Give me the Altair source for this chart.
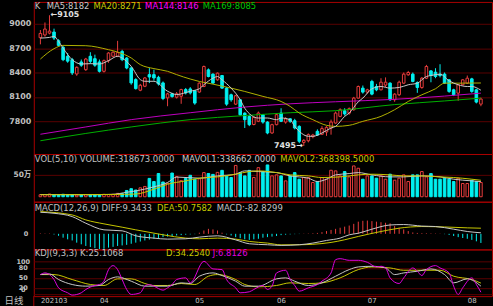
import altair as alt
import pandas as pd

# ---------------- data ----------------
opens = [8829, 8862, 8885, 8898, 8791, 8710, 8600, 8558, 8382, 8530,
         8435, 8600, 8570, 8530, 8415, 8546, 8600, 8600, 8660, 8578,
         8456, 8313, 8182, 8231, 8374, 8374, 8341, 8272, 8088, 8137,
         8096, 8108, 8190, 8198, 8175, 8160, 8228, 8433, 8380, 8310,
         8363, 8208, 8126, 8011, 8064, 7900, 7860, 7760, 7800, 7880,
         7790, 7656, 7758, 7901, 7790, 7830, 7807, 7737, 7540, 7560,
         7610, 7676, 7640, 7668, 7717, 7778, 7860, 7930, 7900, 7942,
         8085, 8208, 8159, 8290, 8228, 8187, 8245, 8269, 8065, 8126,
         8269, 8372, 8380, 8277, 8216, 8330, 8420, 8404, 8380, 8380,
         8310, 8187, 8146, 8249, 8269, 8322, 8187, 8011]
highs = [8923, 9016, 9105, 8940, 8810, 8730, 8640, 8580, 8475, 8560,
         8580, 8650, 8620, 8560, 8560, 8650, 8660, 8790, 8680, 8590,
         8470, 8330, 8260, 8345, 8455, 8435, 8360, 8290, 8150, 8150,
         8160, 8200, 8210, 8220, 8180, 8280, 8486, 8450, 8390, 8400,
         8370, 8220, 8140, 8125, 8075, 7910, 7880, 7860, 7920, 7890,
         7800, 7770, 7900, 7960, 7850, 7840, 7830, 7750, 7580, 7650,
         7645, 7700, 7740, 7740, 7820, 7920, 7960, 7960, 7970, 8100,
         8240, 8240, 8200, 8310, 8260, 8330, 8340, 8280, 8145, 8300,
         8400, 8420, 8400, 8290, 8345, 8494, 8430, 8453, 8502, 8400,
         8320, 8200, 8260, 8320, 8363, 8335, 8200, 8090]
lows = [8747, 8841, 8870, 8800, 8720, 8540, 8520, 8370, 8360, 8470,
        8420, 8510, 8470, 8400, 8400, 8520, 8590, 8590, 8540, 8440,
        8250, 8190, 8170, 8220, 8270, 8300, 8240, 8060, 7985, 8090,
        8080, 8015, 8130, 8130, 8003, 8150, 8220, 8340, 8260, 8300,
        8200, 7990, 8040, 8000, 7870, 7717, 7740, 7750, 7790, 7770,
        7640, 7645, 7750, 7790, 7770, 7780, 7700, 7530, 7495, 7540,
        7590, 7620, 7630, 7620, 7635, 7770, 7850, 7870, 7880, 7930,
        8080, 8140, 8140, 8120, 8170, 8180, 8220, 8050, 8040, 8110,
        8260, 8360, 8280, 8150, 8200, 8320, 8280, 8330, 8340, 8260,
        8150, 8110, 8052, 8240, 8260, 8150, 8020, 7985]
closes = [8881, 8935, 8910, 8824, 8734, 8558, 8540, 8395, 8464, 8490,
          8566, 8538, 8490, 8415, 8546, 8640, 8650, 8645, 8558, 8456,
          8272, 8202, 8243, 8333, 8345, 8333, 8260, 8080, 8137, 8104,
          8137, 8190, 8149, 8149, 8024, 8269, 8474, 8351, 8270, 8392,
          8208, 8011, 8064, 8114, 7880, 7819, 7758, 7848, 7901, 7790,
          7656, 7758, 7881, 7799, 7830, 7800, 7717, 7553, 7565, 7635,
          7630, 7630, 7710, 7725, 7790, 7901, 7942, 7890, 7955, 8085,
          8228, 8159, 8187, 8134, 8187, 8281, 8281, 8065, 8134, 8281,
          8380, 8400, 8290, 8216, 8330, 8474, 8363, 8351, 8363, 8269,
          8167, 8126, 8249, 8310, 8330, 8167, 8036, 8073]
volumes = [45000, 50000, 60000, 45000, 40000, 55000, 45000, 50000, 40000, 45000,
           50000, 45000, 40000, 45000, 55000, 50000, 55000, 75000, 70000, 140000,
           180000, 150000, 200000, 230000, 410000, 340000, 520000, 330000, 300000, 530000,
           450000, 360000, 410000, 480000, 390000, 400000, 540000, 520000, 500000, 545000,
           590000, 460000, 430000, 700000, 540000, 466000, 590000, 430000, 650000, 563000,
           711000, 466000, 489000, 466000, 355000, 466000, 540000, 392000, 430000, 430000,
           318000, 340000, 430000, 392000, 592000, 578000, 466000, 563000, 444000, 689000,
           637000, 392000, 466000, 466000, 415000, 466000, 392000, 504000, 370000, 415000,
           489000, 340000, 489000, 489000, 563000, 444000, 518000, 392000, 392000, 415000,
           392000, 340000, 415000, 296000, 296000, 370000, 340000, 318673]
macd_hist = [4, 3, 3, -6, -18, -35, -50, -60, -80, -95,
             -110, -120, -130, -138, -135, -125, -118, -110, -105, -100,
             -90, -80, -70, -60, -52, -45, -40, -30, -25, -20,
             -15, -12, -8, -5, -3, 10, 30, 45, 40, 30,
             10, -5, -15, -30, -40, -50, -55, -50, -45, -35,
             -30, -25, -20, -12, -8, -5, -3, -2, 2, 3,
             5, 8, 15, 25, 35, 45, 55, 65, 75, 90,
             110, 118, 120, 115, 110, 105, 100, 95, 70, 55,
             40, 25, 12, 8, 6, 5, 4, 3, 2, -3,
             -10, -20, -30, -38, -45, -55, -68, -82.8299]

ma5_i = [0, 2, 3, 4, 5, 7, 9, 11, 13, 15, 17, 18, 20, 22, 23, 25, 28, 30, 33, 35,
         36, 38, 39, 40, 42, 44, 45, 48, 50, 52, 53, 55, 56, 57, 59, 60, 62, 64, 65, 67,
         68, 70, 71, 73, 75, 77, 79, 81, 83, 85, 86, 88, 90, 92, 94, 95, 97]
ma5_v = [8824, 8832, 8845, 8783, 8700, 8558, 8505, 8509, 8505, 8546, 8600, 8578, 8476, 8313, 8292, 8292, 8170, 8129, 8170, 8200,
         8250, 8330, 8351, 8310, 8208, 8065, 7960, 7840, 7840, 7819, 7840, 7819, 7737, 7676, 7615, 7615, 7655, 7717, 7737, 7860,
         7901, 8040, 8085, 8200, 8228, 8208, 8216, 8249, 8269, 8351, 8363, 8380, 8298, 8249, 8228, 8228, 8182]
ma20_i = [0, 3, 5, 10, 15, 17, 20, 22, 25, 28, 30, 33, 35, 38, 42, 45, 49, 53, 55, 57,
          60, 63, 65, 68, 71, 75, 78, 81, 84, 87, 89, 92, 97]
ma20_v = [8566, 8693, 8734, 8730, 8681, 8652, 8579, 8497, 8448, 8415, 8374, 8320, 8290, 8257, 8208, 8167, 8106, 8044, 7983, 7901,
          7819, 7750, 7737, 7750, 7799, 7860, 7942, 8044, 8126, 8200, 8269, 8269, 8271]
ma144_i = [0, 10, 20, 33, 45, 55, 65, 78, 89, 97]
ma144_v = [7640, 7730, 7820, 7905, 7975, 8015, 8040, 8070, 8110, 8146]
ma169_i = [0, 10, 20, 33, 45, 55, 65, 78, 89, 97]
ma169_v = [7560, 7650, 7730, 7820, 7870, 7905, 7930, 8005, 8050, 8085]

mavol1_i = [0, 10, 16, 19, 21, 25, 28, 30, 35, 39, 43, 45, 48, 52, 55, 59, 61, 63, 65, 68,
            70, 73, 77, 80, 84, 88, 91, 95, 97]
mavol1_v = [50000, 45000, 55000, 100000, 130000, 222000, 318000, 440000, 415000, 466000, 504000, 578000, 563000, 540000, 466000, 415000, 340000, 392000, 489000, 518000,
            540000, 489000, 444000, 444000, 466000, 444000, 392000, 355000, 338662]
mavol2_i = [0, 16, 21, 25, 28, 32, 35, 39, 43, 46, 48, 52, 55, 59, 62, 66, 70, 73, 77, 80,
            84, 88, 91, 95, 97]
mavol2_v = [45000, 50000, 60000, 170000, 280000, 355000, 415000, 444000, 504000, 563000, 578000, 540000, 489000, 466000, 430000, 444000, 489000, 504000, 489000, 466000,
            466000, 444000, 430000, 392000, 368398.5]

diff_i = [0, 3, 7, 10, 14, 18, 21, 25, 28, 32, 35, 39, 43, 46, 50, 53, 57, 60, 63, 66,
          68, 70, 73, 77, 80, 84, 87, 91, 94, 97]
diff_v = [195, 186, 156, 96, 36, 27, -18, -39, -48, -45, -30, -18, -55, -90, -99, -105, -99, -84, -60, -39,
          -9, 5, 42, 80, 84, 70, 66, 42, 21, 9.3433]
dea_i = [0, 7, 10, 14, 18, 21, 25, 27, 32, 35, 39, 43, 46, 50, 53, 57, 60, 64, 67, 70,
         75, 79, 84, 89, 94, 97]
dea_v = [201, 171, 126, 90, 60, 36, 6, -9, -39, -45, -39, -48, -69, -84, -100, -99, -95, -78, -54, -24,
         21, 51, 66, 62, 54, 50.7582]

k_i = [0, 2, 4, 7, 10, 13, 15, 17, 20, 23, 25, 28, 31, 33, 35, 38, 40, 43, 45, 48,
       52, 54, 56, 59, 62, 65, 68, 70, 73, 76, 78, 80, 83, 86, 89, 91, 94, 97]
k_v = [60, 62, 45, 30, 25, 27, 45, 53, 40, 25, 25, 25, 35, 33, 55, 65, 57, 40, 25, 25,
       47, 50, 40, 27, 35, 55, 75, 83, 85, 80, 60, 65, 70, 77, 60, 35, 47, 25.1068]
d_i = [0, 3, 7, 11, 14, 17, 20, 23, 25, 28, 31, 34, 37, 39, 43, 45, 48, 52, 55, 59,
       62, 66, 70, 73, 77, 80, 84, 88, 91, 95, 97]
d_v = [60, 60, 45, 30, 27, 47, 47, 33, 27, 27, 33, 30, 55, 60, 45, 30, 23, 27, 35, 33,
       35, 50, 75, 83, 80, 73, 73, 73, 55, 45, 34.254]
j_i = [0, 1, 2, 3, 4, 6, 7, 9, 10, 12, 13, 14, 15, 16, 17, 18, 19, 20, 22, 23,
       24, 25, 27, 28, 29, 30, 32, 33, 36, 38, 40, 41, 43, 44, 46, 47, 49, 50, 51, 52,
       54, 55, 56, 57, 59, 61, 62, 64, 65, 66, 68, 70, 72, 74, 75, 76, 77, 79, 80, 82,
       83, 84, 85, 87, 88, 90, 91, 92, 93, 95, 96, 97]
j_v = [60, 65, 60, 45, 20, 5, -2, 5, 15, 27, 30, 40, 75, 87, 75, 45, 15, 0, 5, 25,
       30, 25, 13, 20, 30, 45, 50, 35, 100, 77, 75, 45, 20, 5, 8, 15, 27, 15, 25, 65,
       73, 45, 27, 10, 20, 30, 40, 65, 105, 108, 103, 103, 97, 83, 85, 80, 50, 33, 50, 80,
       70, 57, 75, 87, 80, 65, 25, 0, 20, 50, 30, 6.8126]

price_ticks = [7800, 8100, 8400, 8700, 9000]
vol_ticks = [500000]
vol_tick_labels = ["50万"]
kdj_ticks = [0, 20, 50, 80, 100]
month_ticks = [0, 13, 34, 52, 72, 94]
month_labels = ["202103", "04", "05", "06", "07", "08"]
hi_point = (2, 9105)
lo_point = (58, 7495)

hdr_main = ["K", "MA5:8182", "MA20:8271", "MA144:8146", "MA169:8085"]
hdr_vol = ["VOL(5,10) VOLUME:318673.0000", "MAVOL1:338662.0000", "MAVOL2:368398.5000"]
hdr_macd = ["MACD(12,26,9) DIFF:9.3433", "DEA:50.7582", "MACD:-82.8299"]
hdr_kdj = ["KDJ(9,3,3) K:25.1068", "D:34.2540", "J:6.8126"]
period_label = "日线"

# ---------------- styling ----------------
BG = "#000000"
RED = "#e83c3c"
CYAN = "#00f0f0"
GRID = "#5a0000"
BORDER = "#a80000"
LBL = "#c0c0c0"
WHITE = "#c8c8c8"
YELLOW = "#c8c800"
OLIVE = "#b0b000"
MAGENTA = "#e000e0"
GREEN = "#00b000"
FONT = "DejaVu Sans"
CJK = "Noto Sans CJK SC"
PW = 461  # plot width (right border falls just outside the window)

n = len(closes)
candles = pd.DataFrame({
    "i": list(range(n)), "open": opens, "high": highs, "low": lows,
    "close": closes, "vol": volumes, "hist": macd_hist, "zero": [0] * n,
})


def ldf(ii, vv):
    return pd.DataFrame({"i": ii, "v": vv})


XS = alt.Scale(domain=[-0.36, 98.35], nice=False, zero=False)
up = "datum.close >= datum.open"


def ax_y(values, size, padding, align="right", label_expr=None, grid=True, offset=None, font=FONT):
    kw = dict(values=values, grid=grid, gridColor=GRID, gridWidth=1, domain=False, ticks=False,
              tickSize=0, labelColor=LBL, labelFont=font, labelFontSize=size, labelFontWeight="bold",
              labelPadding=padding, labelAlign=align, labelBaseline="middle", minExtent=33,
              maxExtent=33, labelOverlap=False, labelFlush=False, title=None, format="d")
    if label_expr is not None:
        kw["labelExpr"] = label_expr
    if offset is not None:
        kw["labelOffset"] = offset
    return alt.Axis(**kw)


def header(txt, x, y, color):
    return alt.Chart(pd.DataFrame({"t": [txt]})).mark_text(
        align="left", baseline="alphabetic", font=FONT, fontSize=8.5, color=color
    ).encode(text="t:N", x=alt.value(x), y=alt.value(y))


# ---------------- main price panel ----------------
main_scale = alt.Scale(domain=[7397, 9269], nice=False, zero=False)
main_axis = ax_y(price_ticks, 8, 3)


def ymain(f):
    return alt.Y(f, scale=main_scale, axis=main_axis)


xn = alt.X("i:Q", scale=XS, axis=None)

wick = alt.Chart(candles).mark_rule(strokeWidth=1).encode(
    x=xn, y=ymain("low:Q"), y2="high:Q",
    color=alt.condition(up, alt.value(RED), alt.value(CYAN)))
body = alt.Chart(candles).mark_bar(width=2.6, orient="vertical", strokeWidth=1).encode(
    x=xn, y=ymain("open:Q"), y2="close:Q",
    fill=alt.condition(up, alt.value(BG), alt.value(CYAN)),
    stroke=alt.condition(up, alt.value(RED), alt.value(CYAN)))


def mline(ii, vv, color, yfn):
    return alt.Chart(ldf(ii, vv)).mark_line(color=color, strokeWidth=1, interpolate="monotone").encode(
        x=xn, y=yfn("v:Q"))


hi_df = pd.DataFrame({"i": [hi_point[0]], "v": [hi_point[1]], "t": ["←" + str(hi_point[1])]})
lo_df = pd.DataFrame({"i": [lo_point[0]], "v": [lo_point[1]], "t": [str(lo_point[1]) + "→"]})
ann_hi = alt.Chart(hi_df).mark_text(align="left", baseline="middle", dx=1, font=FONT, fontSize=8,
                                    fontWeight="bold", color="#e0e0e0").encode(x=xn, y=ymain("v:Q"), text="t:N")
ann_lo = alt.Chart(lo_df).mark_text(align="right", baseline="middle", dx=-1, font=FONT, fontSize=8,
                                    fontWeight="bold", color="#e0e0e0").encode(x=xn, y=ymain("v:Q"), text="t:N")

main = alt.layer(
    wick, body,
    mline(ma144_i, ma144_v, "#c000c0", ymain),
    mline(ma169_i, ma169_v, GREEN, ymain),
    mline(ma20_i, ma20_v, OLIVE, ymain),
    mline(ma5_i, ma5_v, WHITE, ymain),
    ann_hi, ann_lo,
    header(hdr_main[0], 1, 7.5, LBL),
    header(hdr_main[1], 13, 7.5, WHITE),
    header(hdr_main[2], 60, 7.5, YELLOW),
    header(hdr_main[3], 112, 7.5, "#ff00ff"),
    header(hdr_main[4], 170, 7.5, "#00c800"),
).properties(width=PW, height=153)

# ---------------- volume panel ----------------
vol_scale = alt.Scale(domain=[-111000, 955600], nice=False, zero=False)
vol_expr = "[" + ",".join("'" + s + "'" for s in vol_tick_labels) + "][indexof(" + str(vol_ticks) + ", datum.value)]"
vol_axis = ax_y(vol_ticks, 7.5, 3, label_expr=vol_expr, font=FONT + ", " + CJK)


def yvol(f):
    return alt.Y(f, scale=vol_scale, axis=vol_axis)


vbar = alt.Chart(candles).mark_bar(width=2.6, orient="vertical", strokeWidth=1).encode(
    x=xn, y=yvol("vol:Q"), y2="zero:Q",
    fill=alt.condition(up, alt.value(BG), alt.value(CYAN)),
    stroke=alt.condition(up, alt.value(RED), alt.value(CYAN)))

vol = alt.layer(
    vbar,
    mline(mavol1_i, mavol1_v, WHITE, yvol),
    mline(mavol2_i, mavol2_v, YELLOW, yvol),
    header(hdr_vol[0], 1, 7.7, LBL),
    header(hdr_vol[1], 149, 7.7, WHITE),
    header(hdr_vol[2], 248, 7.7, YELLOW),
).properties(width=PW, height=48)

# ---------------- MACD panel ----------------
macd_scale = alt.Scale(domain=[-141.3, 290.7], nice=False, zero=False)
macd_axis = ax_y([0], 6.5, 6, grid=False)


def ymacd(f):
    return alt.Y(f, scale=macd_scale, axis=macd_axis)


hbar = alt.Chart(candles).mark_rule(strokeWidth=1).encode(
    x=xn, y=ymacd("hist:Q"), y2="zero:Q",
    color=alt.condition("datum.hist >= 0", alt.value(RED), alt.value(CYAN)))

macd = alt.layer(
    hbar,
    mline(dea_i, dea_v, YELLOW, ymacd),
    mline(diff_i, diff_v, WHITE, ymacd),
    header(hdr_macd[0], 1, 9, LBL),
    header(hdr_macd[1], 124, 9, YELLOW),
    header(hdr_macd[2], 184, 9, LBL),
).properties(width=PW, height=48)

# ---------------- KDJ panel ----------------
kdj_scale = alt.Scale(domain=[-5.1, 135.9], nice=False, zero=False)
kdj_axis = ax_y(kdj_ticks, 6.5, 11, align="center",
                offset={"condition": {"test": "datum.value === 0", "value": -5}, "value": 0})
month_expr = "[" + ",".join("'" + s + "'" for s in month_labels) + "][indexof(" + str(month_ticks) + ", datum.value)]"
x_axis = alt.Axis(values=month_ticks, labelExpr=month_expr, labelAlign="left", labelBaseline="middle",
                  labelPadding=4, ticks=False, tickSize=0, domain=False, grid=False, labelColor=LBL,
                  labelFont=FONT, labelFontSize=7, labelOverlap=False, labelFlush=False,
                  minExtent=10, maxExtent=10, title=None)
xk = alt.X("i:Q", scale=XS, axis=x_axis)


def ykdj(f):
    return alt.Y(f, scale=kdj_scale, axis=kdj_axis)


def kline(ii, vv, color):
    return alt.Chart(ldf(ii, vv)).mark_line(color=color, strokeWidth=1, interpolate="monotone").encode(
        x=xk, y=ykdj("v:Q"))


period = alt.Chart(pd.DataFrame({"t": [period_label]})).mark_text(
    align="center", baseline="middle", font=CJK, fontSize=9.5, color=LBL
).encode(text="t:N", x=alt.value(-20), y=alt.value(51.5))
sep = alt.Chart(pd.DataFrame({"t": [0]})).mark_rule(color=BORDER, strokeWidth=1).encode(
    x=alt.value(0), y=alt.value(47), y2=alt.value(57))

kdj = alt.layer(
    kline(d_i, d_v, YELLOW),
    kline(k_i, k_v, WHITE),
    kline(j_i, j_v, MAGENTA),
    header(hdr_kdj[0], 1, 6.5, LBL),
    header(hdr_kdj[1], 133, 6.5, YELLOW),
    header(hdr_kdj[2], 180, 6.5, MAGENTA),
    period, sep,
).properties(width=PW, height=47)

chart = alt.vconcat(main, vol, macd, kdj, spacing=0, bounds="flush").resolve_scale(
    x="shared", y="independent"
).properties(background=BG, padding=0).configure_view(stroke=BORDER, strokeWidth=1)

chart.save("out.html", embed_options={"renderer": "svg", "actions": False})
